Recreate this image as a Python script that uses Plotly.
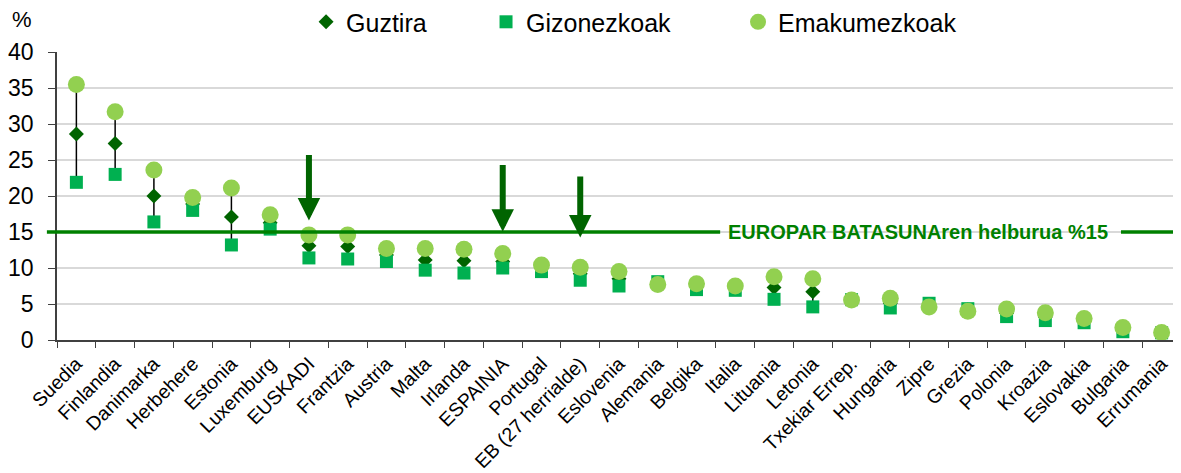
import plotly.graph_objects as go

# ---------------- data ----------------
countries = [
    "Suedia", "Finlandia", "Danimarka", "Herbehere", "Estonia", "Luxemburg",
    "EUSKADI", "Frantzia", "Austria", "Malta", "Irlanda", "ESPAINIA",
    "Portugal", "EB (27 herrialde)", "Eslovenia", "Alemania", "Belgika",
    "Italia", "Lituania", "Letonia", "Txekiar Errep.", "Hungaria", "Zipre",
    "Grezia", "Polonia", "Kroazia", "Eslovakia", "Bulgaria", "Errumania",
]
guztira = [28.6, 27.3, 20.0, 18.9, 17.1, 16.3, 13.1, 13.0, 11.8, 11.1, 11.0, 10.9,
           10.0, 9.2, 8.5, 7.9, 7.4, 7.2, 7.3, 6.7, 5.6, 5.1, 4.8, 4.2,
           3.7, 3.2, 2.7, 1.5, 1.0]
gizonezkoak = [21.9, 23.0, 16.4, 18.0, 13.2, 15.4, 11.4, 11.25, 10.9, 9.7, 9.3, 10.0,
               9.5, 8.3, 7.5, 8.1, 7.0, 6.9, 5.65, 4.6, 5.6, 4.45, 5.1, 4.35,
               3.25, 2.7, 2.4, 1.15, 1.0]
emakumezkoak = [35.5, 31.7, 23.6, 19.8, 21.1, 17.4, 14.6, 14.6, 12.7, 12.7, 12.6, 12.0,
                10.4, 10.1, 9.5, 7.7, 7.8, 7.5, 8.8, 8.5, 5.55, 5.8, 4.6, 4.0,
                4.3, 3.8, 3.0, 1.75, 1.05]
series_names = ["Guztira", "Gizonezkoak", "Emakumezkoak"]
y_tick_values = [0, 5, 10, 15, 20, 25, 30, 35, 40]

target_value = 15
target_label = "EUROPAR BATASUNAren helburua %15"

arrow_countries = ["EUSKADI", "ESPAINIA", "EB (27 herrialde)"]
arrow_tips = [16.6, 15.05, 14.25]
arrow_tops = [25.9, 24.5, 22.9]

# ---------------- styling ----------------
FONT = "Liberation Sans, Arial, sans-serif"
C_TOTAL = "#006400"
C_MEN = "#00B050"
C_WOMEN = "#92D050"
C_TARGET = "#008000"
C_ARROW = "#006400"
AXIS = "#404040"

fig = go.Figure()

# high-low lines between min and max of the three series
hl_x, hl_y = [], []
for c, t, m, w in zip(countries, guztira, gizonezkoak, emakumezkoak):
    hl_x += [c, c, None]
    hl_y += [min(t, m, w), max(t, m, w), None]
fig.add_trace(go.Scatter(x=hl_x, y=hl_y, mode="lines",
                         line=dict(color="#000000", width=1.5),
                         showlegend=False, hoverinfo="skip"))

fig.add_trace(go.Scatter(x=countries, y=guztira, mode="markers", name=series_names[0],
                         marker=dict(symbol="diamond", size=11.5, color=C_TOTAL),
                         legend="legend"))
fig.add_trace(go.Scatter(x=countries, y=gizonezkoak, mode="markers", name=series_names[1],
                         marker=dict(symbol="square", size=13, color=C_MEN),
                         legend="legend2"))
fig.add_trace(go.Scatter(x=countries, y=emakumezkoak, mode="markers", name=series_names[2],
                         marker=dict(symbol="circle", size=17, color=C_WOMEN),
                         legend="legend3"))

# target line (split around its label)
fig.add_shape(type="line", xref="paper", yref="y", x0=-0.009, x1=0.590,
              y0=target_value, y1=target_value, line=dict(color=C_TARGET, width=3.5))
fig.add_shape(type="line", xref="paper", yref="y", x0=0.9466, x1=0.9964,
              y0=target_value, y1=target_value, line=dict(color=C_TARGET, width=3.5))

annotations = [
    dict(x=0.7657, y=target_value, xref="paper", yref="y", text="<b>%s</b>" % target_label,
         showarrow=False, xanchor="center", yanchor="middle",
         font=dict(family=FONT, size=20, color=C_TARGET)),
    dict(x=-0.031, y=1.113, xref="paper", yref="paper", text="%", showarrow=False,
         xanchor="center", yanchor="middle", font=dict(family=FONT, size=22, color="#000")),
]
for c, tip, top in zip(arrow_countries, arrow_tips, arrow_tops):
    annotations.append(dict(x=c, y=tip, xref="x", yref="y", ax=0, ay=top,
                            axref="pixel", ayref="y", text="", showarrow=True,
                            arrowhead=2, arrowwidth=6, arrowsize=0.75,
                            arrowcolor=C_ARROW, standoff=0))

legend_common = dict(orientation="h", yanchor="middle", y=1.104, xanchor="left",
                     bgcolor="rgba(0,0,0,0)", font=dict(family=FONT, size=25, color="#000"))

# the page body has an 8px margin, so the figure is sized to end at the window edge
fig.update_layout(
    template="none",
    width=1173, height=465,
    margin=dict(l=49, r=0, t=44, b=133, autoexpand=False),
    paper_bgcolor="white", plot_bgcolor="white",
    font=dict(family=FONT, color="#000"),
    annotations=annotations,
    legend=dict(x=0.2216, **legend_common),
    legend2=dict(x=0.3817, **legend_common),
    legend3=dict(x=0.6059, **legend_common),
    xaxis=dict(type="category", range=[-0.5, len(countries) - 0.5], tickangle=-45,
               ticks="outside", tickson="boundaries", ticklen=6, tickcolor=AXIS,
               showline=True, linecolor=AXIS, linewidth=1.5, showgrid=False,
               automargin=False, ticklabelstandoff=3,
               tickfont=dict(family=FONT, size=19.5, color="#000")),
    yaxis=dict(range=[0, 40], tickvals=y_tick_values, ticks="outside", ticklen=7,
               tickcolor=AXIS, showline=True, linecolor=AXIS, linewidth=1.5,
               showgrid=True, gridcolor="#d9d9d9", gridwidth=1.5, zeroline=False,
               ticklabelstandoff=10, automargin=False,
               tickfont=dict(family=FONT, size=23, color="#000")),
)

fig.write_html("out.html")
